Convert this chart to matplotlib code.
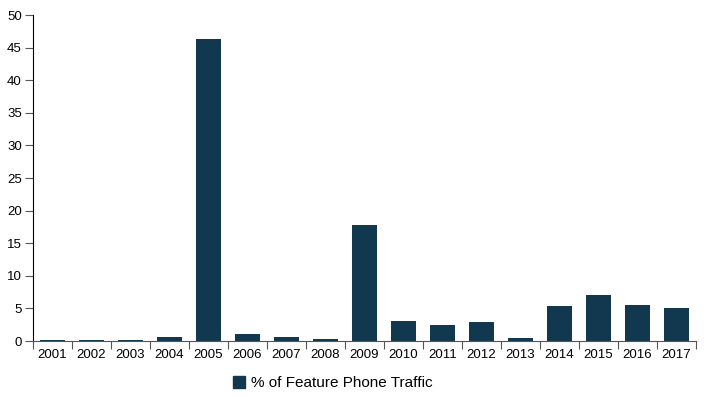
# Feature phone traffic share by year
import matplotlib
matplotlib.use('Agg')
import matplotlib.pyplot as plt
import matplotlib.patches as mpatches
import numpy as np

years = ['2001', '2002', '2003', '2004', '2005', '2006', '2007', '2008', '2009',
         '2010', '2011', '2012', '2013', '2014', '2015', '2016', '2017']
traffic = [0.15, 0.15, 0.15, 0.65, 46.3, 1.1, 0.65, 0.35, 17.8,
           3.1, 2.5, 2.9, 0.45, 5.4, 7.1, 5.5, 5.1]
yticks = np.arange(0, 51, 5)
bar_color = '#12384F'

matplotlib.rc('font', family=['Liberation Sans', 'DejaVu Sans'], size=9.5)

fig = plt.figure(figsize=(7.07, 3.96), dpi=100)
ax = fig.add_axes([33 / 707, 1 - 341 / 396, 663 / 707, 326 / 396])

x = np.arange(len(years))
ax.bar(x, traffic, width=0.62, color=bar_color)

ax.set_xlim(-0.5, len(years) - 0.5)
ax.set_ylim(0, 50)
ax.set_yticks(yticks)

# ticks between bands, labels centred in bands
ax.set_xticks(np.arange(-0.5, len(years)), minor=False)
ax.set_xticklabels([])
ax.set_xticks(x, minor=True)
ax.set_xticklabels(years, minor=True)
ax.tick_params(axis='x', which='major', length=6, color='#555555')
ax.tick_params(axis='x', which='minor', length=0, pad=6)
ax.tick_params(axis='y', length=6, color='#555555', pad=2)

for side in ['top', 'right']:
    ax.spines[side].set_visible(False)
ax.spines['left'].set_color('black')
ax.spines['bottom'].set_color('#555555')

handle = mpatches.Patch(color=bar_color, label='% of Feature Phone Traffic')
fig.legend(handles=[handle], loc='center', bbox_to_anchor=(333 / 707, 1 - 383 / 396),
           frameon=False, fontsize=11, handlelength=0.8, handleheight=0.8,
           handletextpad=0.4)

plt.savefig('out.png', dpi=100)
